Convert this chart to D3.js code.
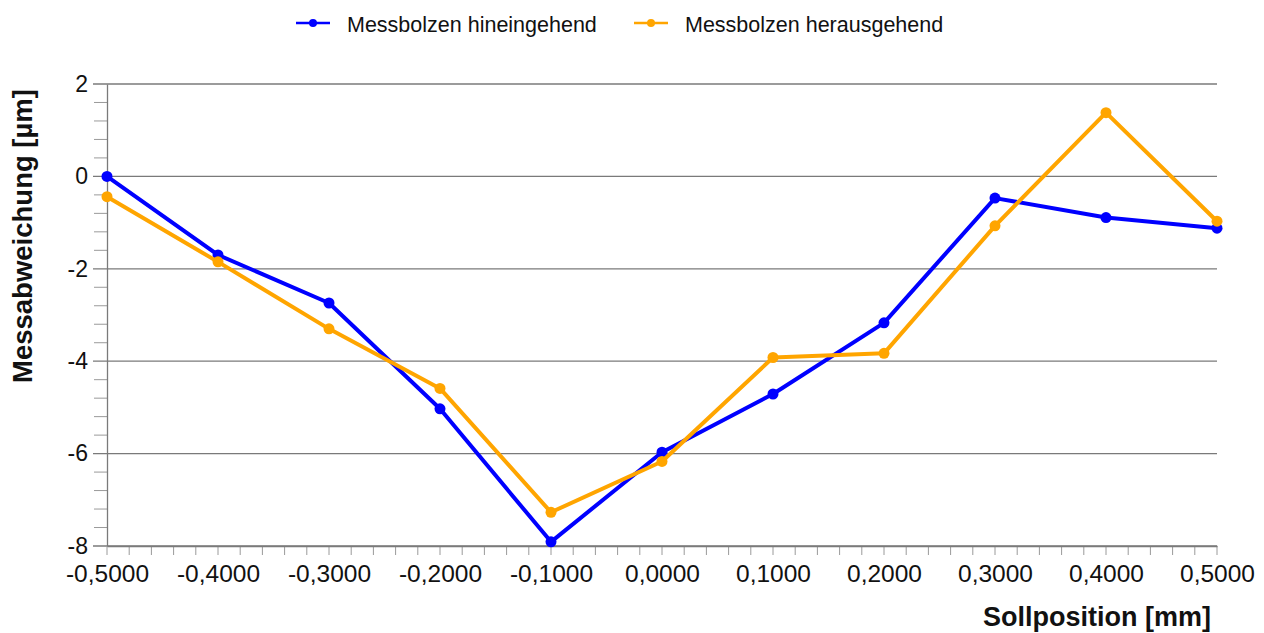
<!DOCTYPE html>
<html>
<head>
<meta charset="utf-8">
<script src="https://cdn.jsdelivr.net/npm/d3@7"></script>
<style>
  body { margin: 0; background: #fff; }
  text { font-family: Arial, "Liberation Sans", sans-serif; }
</style>
</head>
<body>
<svg id="chart" width="1264" height="633"></svg>
<script>
// data
var positions = [-0.5, -0.4, -0.3, -0.2, -0.1, 0.0, 0.1, 0.2, 0.3, 0.4, 0.5];
var hinein = [0.00, -1.70, -2.74, -5.03, -7.91, -5.97, -4.71, -3.17, -0.47, -0.89, -1.12];
var heraus = [-0.44, -1.85, -3.30, -4.59, -7.27, -6.17, -3.92, -3.83, -1.07, 1.38, -0.97];
var yTicks = [-8, -6, -4, -2, 0, 2];
var seriesNames = ["Messbolzen hineingehend", "Messbolzen herausgehend"];
var seriesColors = ["#0000ff", "#ffa500"];

var svg = d3.select("#chart");
var margin = {top: 84, right: 47, bottom: 87, left: 107};
var width = 1264 - margin.left - margin.right,
    height = 633 - margin.top - margin.bottom;

var g = svg.append("g")
    .attr("transform", "translate(" + margin.left + "," + margin.top + ")");

var x = d3.scaleLinear().domain([-0.5, 0.5]).range([0, width]);
var y = d3.scaleLinear().domain([-8, 2]).range([height, 0]);

// horizontal grid
g.selectAll(".grid")
    .data(yTicks)
  .enter().append("line")
    .attr("x1", -14).attr("x2", width)
    .attr("y1", function(d) { return y(d); })
    .attr("y2", function(d) { return y(d); })
    .attr("stroke", "#7a7a7a")
    .attr("stroke-width", 1.3);

// y minor ticks
var yMinor = d3.range(-8, 2.001, 0.4).filter(function(v) {
  return Math.abs(v / 2 - Math.round(v / 2)) > 1e-6;
});
g.selectAll(".ymin")
    .data(yMinor)
  .enter().append("line")
    .attr("x1", -13).attr("x2", 0)
    .attr("y1", function(d) { return y(d); })
    .attr("y2", function(d) { return y(d); })
    .attr("stroke", "#9a9a9a")
    .attr("stroke-width", 1);

// y axis
var yAxis = g.append("g")
    .call(d3.axisLeft(y).tickValues(yTicks).tickSize(0).tickPadding(19)
      .tickFormat(function(d) { return d < 0 ? "-" + Math.abs(d) : d; }));
yAxis.select(".domain").attr("stroke", "#7a7a7a").attr("stroke-width", 1.3);
yAxis.selectAll("text").attr("font-size", 23).attr("fill", "#111");

// x axis
var xMinor = d3.range(0, 51).map(function(i) { return -0.5 + i * 0.02; });
g.selectAll(".xmin")
    .data(xMinor)
  .enter().append("line")
    .attr("x1", function(d) { return x(d); })
    .attr("x2", function(d) { return x(d); })
    .attr("y1", height).attr("y2", height + 9)
    .attr("stroke", "#9a9a9a")
    .attr("stroke-width", 1);

var xAxis = g.append("g")
    .attr("transform", "translate(0," + height + ")")
    .call(d3.axisBottom(x).tickValues(positions).tickSize(0).tickPadding(19)
      .tickFormat(function(d) { return d3.format(".4f")(d).replace("−", "-").replace(".", ","); }));
xAxis.select(".domain").attr("stroke", "#7a7a7a").attr("stroke-width", 1.3);
xAxis.selectAll("text").attr("font-size", 24.5).attr("fill", "#111");

// axis titles
svg.append("text")
    .attr("transform", "translate(32,236) rotate(-90)")
    .attr("text-anchor", "middle")
    .attr("font-size", 27.5)
    .attr("font-weight", "bold")
    .attr("fill", "#111")
    .text("Messabweichung [µm]");

svg.append("text")
    .attr("x", 1211)
    .attr("y", 626)
    .attr("text-anchor", "end")
    .attr("font-size", 27)
    .attr("font-weight", "bold")
    .attr("fill", "#111")
    .text("Sollposition [mm]");

// lines
var line = d3.line()
    .x(function(d, i) { return x(positions[i]); })
    .y(function(d) { return y(d); });

[hinein, heraus].forEach(function(vals, k) {
  g.append("path")
      .datum(vals)
      .attr("d", line)
      .attr("fill", "none")
      .attr("stroke", seriesColors[k])
      .attr("stroke-width", 4)
      .attr("stroke-linejoin", "round");
  g.selectAll(".dot" + k)
      .data(vals)
    .enter().append("circle")
      .attr("cx", function(d, i) { return x(positions[i]); })
      .attr("cy", function(d) { return y(d); })
      .attr("r", 5.5)
      .attr("fill", seriesColors[k]);
});

// legend
var legendX = [296, 634];
seriesNames.forEach(function(name, k) {
  var lg = svg.append("g").attr("transform", "translate(" + legendX[k] + ",23)");
  lg.append("line").attr("x1", 0).attr("x2", 34).attr("y1", 0).attr("y2", 0)
      .attr("stroke", seriesColors[k]).attr("stroke-width", 2.5);
  lg.append("circle").attr("cx", 17).attr("cy", 0).attr("r", 4).attr("fill", seriesColors[k]);
  lg.append("text").attr("x", 51).attr("y", 9)
      .attr("font-size", 21.5).attr("fill", "#111").text(name);
});
</script>
</body>
</html>
